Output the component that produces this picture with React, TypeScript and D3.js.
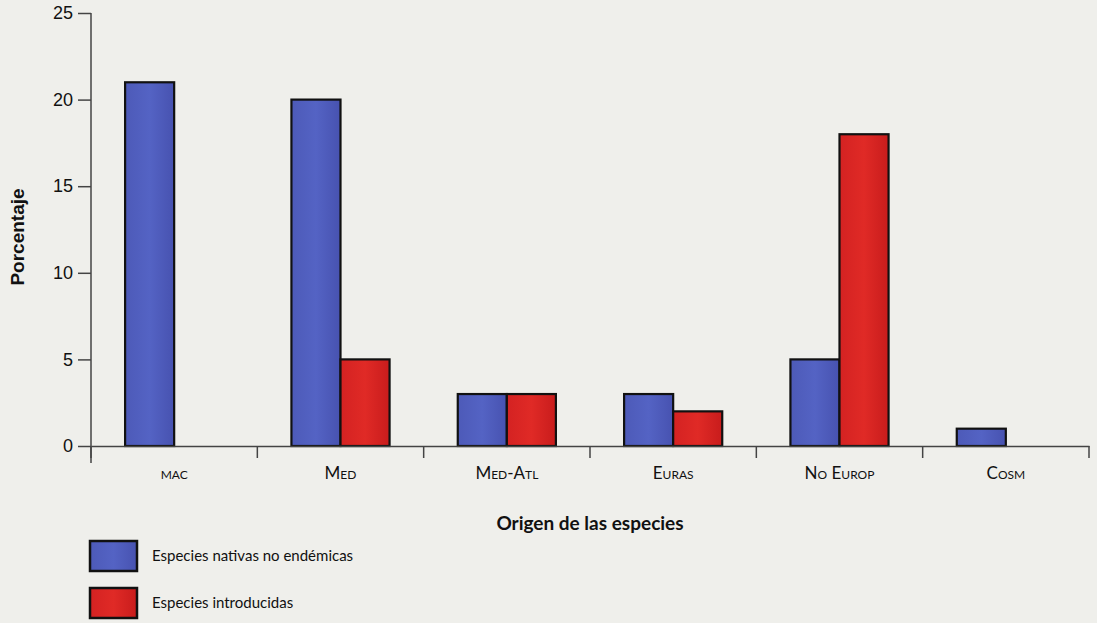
import React, { useEffect, useRef } from 'react';
import * as d3 from 'd3'

const categories = ['mac', 'Med', 'Med-Atl', 'Euras', 'No Europ', 'Cosm']
const nativas = [21, 20, 3, 3, 5, 1]
const introducidas = [0, 5, 3, 2, 18, 0]
const yTicks = [0, 5, 10, 15, 20, 25]
const seriesNames = ['Especies nativas no endémicas', 'Especies introducidas']

const App: React.FC = () => {
  const svgRef = useRef() as React.MutableRefObject<SVGSVGElement>

  useEffect(() => {
    const W = 1097, H = 623
    const left = 91, right = 1089, top = 13, bottom = 446

    const svg = d3.select(svgRef.current)
    svg.html('')
    svg.attr('width', W).attr('height', H)

    svg.append('rect').attr('width', W).attr('height', H).attr('fill', '#efefeb')

    const defs = svg.append('defs')
    const grad = (id: string, c1: string, c2: string, c3: string) => {
      const g = defs.append('linearGradient').attr('id', id)
        .attr('x1', 0).attr('x2', 1).attr('y1', 0).attr('y2', 0)
      g.append('stop').attr('offset', '0%').attr('stop-color', c1)
      g.append('stop').attr('offset', '50%').attr('stop-color', c2)
      g.append('stop').attr('offset', '100%').attr('stop-color', c3)
    }
    grad('gBlue', '#4d5ab8', '#5463c4', '#4752b0')
    grad('gRed', '#d42222', '#e02a26', '#c81c1c')

    const x = d3.scaleBand().domain(categories).range([left, right])
    const y = d3.scaleLinear().domain([0, 25]).range([bottom, top])
    const bw = x.bandwidth() * 0.295

    const g = svg.append('g')

    // bars
    categories.forEach((c, i) => {
      const cx = (x(c) as number) + x.bandwidth() / 2
      const vals: [number, string, number][] = [[nativas[i], 'url(#gBlue)', cx - bw], [introducidas[i], 'url(#gRed)', cx]]
      vals.forEach(([v, fill, x0]) => {
        if (v <= 0) return
        g.append('rect')
          .attr('x', x0).attr('y', y(v))
          .attr('width', bw).attr('height', y(0) - y(v))
          .attr('fill', fill)
          .attr('stroke', '#111').attr('stroke-width', 2.2)
      })
    })

    // y axis
    const yAxis = svg.append('g')
      .attr('transform', `translate(${left},0)`)
      .call(d3.axisLeft(y).tickValues(yTicks).tickSize(13).tickPadding(5).tickSizeOuter(0))
    yAxis.select('.domain').attr('stroke', '#444').attr('stroke-width', 1.5)
      .attr('d', `M0,${top}V${bottom + 17}`)
    yAxis.selectAll('.tick line').attr('stroke', '#444').attr('stroke-width', 1.5)
    yAxis.selectAll('.tick text').attr('font-family', 'Liberation Sans, Arial, sans-serif')
      .attr('font-size', 18).attr('fill', '#111')

    // x axis
    const xAxis = svg.append('g')
      .attr('transform', `translate(0,${bottom})`)
      .call(d3.axisBottom(x).tickSize(0).tickPadding(21).tickSizeOuter(0))
    xAxis.select('.domain').attr('stroke', '#444').attr('stroke-width', 1.5)
    xAxis.selectAll('.tick text')
      .attr('font-family', 'Lato, sans-serif').attr('font-size', 17)
      .attr('font-variant', 'small-caps').attr('fill', '#111')
    const edges = categories.map(c => x(c) as number).concat([right])
    xAxis.selectAll('.edge').data(edges).join('line')
      .attr('x1', d => d).attr('x2', d => d)
      .attr('y1', 0).attr('y2', 12)
      .attr('stroke', '#444').attr('stroke-width', 1.5)

    // axis titles
    svg.append('text')
      .attr('transform', `translate(24,237) rotate(-90)`)
      .attr('text-anchor', 'middle')
      .attr('font-family', 'Liberation Sans, Arial, sans-serif')
      .attr('font-weight', 'bold').attr('font-size', 19).attr('fill', '#111')
      .text('Porcentaje')

    svg.append('text')
      .attr('x', 590).attr('y', 530)
      .attr('text-anchor', 'middle')
      .attr('font-family', 'Lato, sans-serif')
      .attr('font-weight', 'bold').attr('font-size', 19).attr('fill', '#111')
      .text('Origen de las especies')

    // legend
    const legend = svg.append('g')
    seriesNames.forEach((name, i) => {
      const ly = 541 + i * 47
      legend.append('rect')
        .attr('x', 90).attr('y', ly).attr('width', 47).attr('height', 30)
        .attr('fill', i === 0 ? 'url(#gBlue)' : 'url(#gRed)')
        .attr('stroke', '#111').attr('stroke-width', 2.5)
      legend.append('text')
        .attr('x', 152).attr('y', ly + 20)
        .attr('font-family', 'Lato, sans-serif').attr('font-size', 15).attr('fill', '#111')
        .text(name)
    })
  }, [])

  return <svg ref={svgRef} style={{ position: 'absolute', left: 0, top: 0 }} />
}

export default App
